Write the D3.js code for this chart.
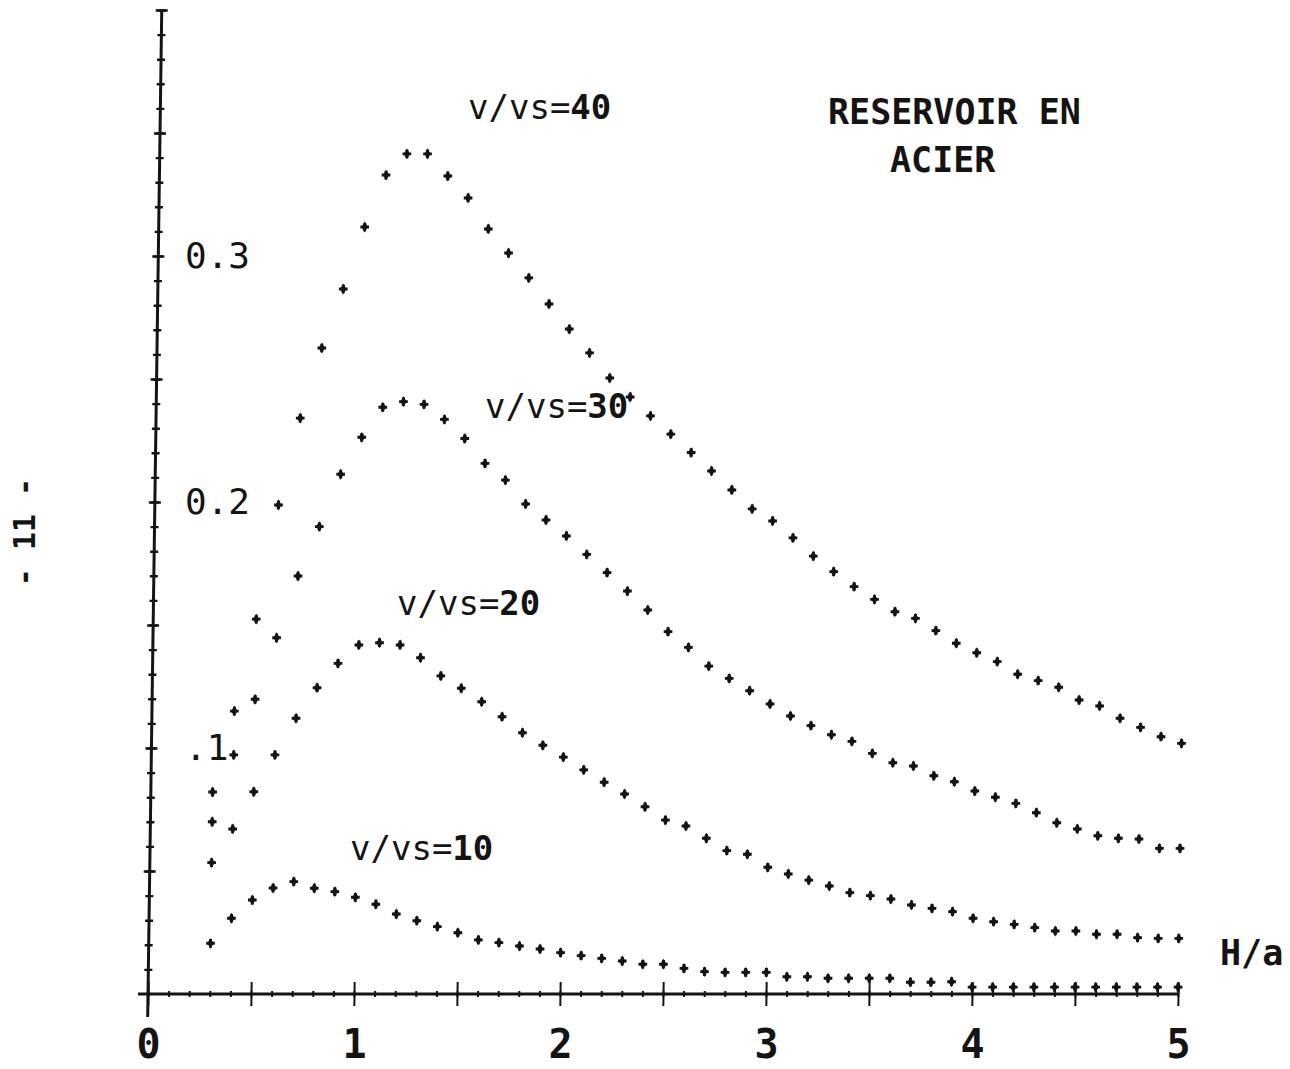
<!DOCTYPE html>
<html lang="fr">
<head>
<meta charset="utf-8">
<title>Reservoir en acier</title>
<script src="https://d3js.org/d3.v7.min.js"></script>
<style>
  body { margin: 0; background: #fff; }
  svg text { font-family: "DejaVu Sans Mono", monospace; fill: #141414; }
</style>
</head>
<body>
<script>
const w = 1290;
const h = 1069;

// abscissa H/a (one point every 0.1)
const hOverA = [0.3, 0.4, 0.5, 0.6, 0.7, 0.8, 0.9, 1.0, 1.1, 1.2, 1.3, 1.4, 1.5, 1.6, 1.7, 1.8,
  1.9, 2.0, 2.1, 2.2, 2.3, 2.4, 2.5, 2.6, 2.7, 2.8, 2.9, 3.0, 3.1, 3.2, 3.3, 3.4, 3.5, 3.6,
  3.7, 3.8, 3.9, 4.0, 4.1, 4.2, 4.3, 4.4, 4.5, 4.6, 4.7, 4.8, 4.9, 5.0];

const vs40 = [0.0821, 0.1150, 0.1524, 0.1988, 0.2341, 0.2626, 0.2866, 0.3118, 0.3329, 0.3415,
  0.3415, 0.3325, 0.3236, 0.3110, 0.3012, 0.2911, 0.2805, 0.2703, 0.2606, 0.2504, 0.2427,
  0.2350, 0.2276, 0.2201, 0.2126, 0.2049, 0.1972, 0.1923, 0.1854, 0.1780, 0.1717, 0.1656,
  0.1604, 0.1554, 0.1527, 0.1477, 0.1426, 0.1387, 0.1351, 0.1300, 0.1274, 0.1247, 0.1195,
  0.1171, 0.1121, 0.1084, 0.1046, 0.1019];

const vs30 = [0.0700, 0.0972, 0.1198, 0.1448, 0.1699, 0.1900, 0.2113, 0.2263, 0.2385, 0.2408,
  0.2397, 0.2336, 0.2258, 0.2157, 0.2089, 0.1992, 0.1927, 0.1862, 0.1787, 0.1713, 0.1638,
  0.1561, 0.1473, 0.1409, 0.1333, 0.1283, 0.1233, 0.1179, 0.1130, 0.1091, 0.1054, 0.1027,
  0.0978, 0.0940, 0.0927, 0.0887, 0.0863, 0.0825, 0.0800, 0.0775, 0.0737, 0.0696, 0.0671,
  0.0643, 0.0633, 0.0630, 0.0592, 0.0592];

const vs20 = [0.0534, 0.0671, 0.0822, 0.0972, 0.1121, 0.1245, 0.1344, 0.1419, 0.1428, 0.1419,
  0.1367, 0.1293, 0.1243, 0.1188, 0.1127, 0.1062, 0.1011, 0.0963, 0.0911, 0.0861, 0.0813,
  0.0761, 0.0707, 0.0683, 0.0633, 0.0583, 0.0568, 0.0515, 0.0488, 0.0463, 0.0439, 0.0412,
  0.0400, 0.0386, 0.0362, 0.0348, 0.0335, 0.0308, 0.0294, 0.0283, 0.0270, 0.0256, 0.0256,
  0.0243, 0.0243, 0.0229, 0.0226, 0.0226];

const vs10 = [0.0206, 0.0308, 0.0382, 0.0431, 0.0457, 0.0430, 0.0416, 0.0393, 0.0365, 0.0325,
  0.0298, 0.0274, 0.0249, 0.0220, 0.0209, 0.0195, 0.0183, 0.0168, 0.0156, 0.0145, 0.0134,
  0.0121, 0.0121, 0.0104, 0.0091, 0.0088, 0.0088, 0.0088, 0.0070, 0.0070, 0.0064, 0.0064,
  0.0064, 0.0064, 0.0048, 0.0048, 0.0050, 0.0028, 0.0028, 0.0028, 0.0028, 0.0028, 0.0028,
  0.0028, 0.0028, 0.0028, 0.0028, 0.0028];

const seriesNames = ["v/vs=40", "v/vs=30", "v/vs=20", "v/vs=10"];
const seriesValues = [vs40, vs30, vs20, vs10];

const xTickValues = [0, 1, 2, 3, 4, 5];
const xTickLabels = ["0", "1", "2", "3", "4", "5"];
const yTickValues = [0.1, 0.2, 0.3];
const yTickLabels = [".1", "0.2", "0.3"];

const titleLines = ["RESERVOIR EN", "ACIER"];
const xTitle = "H/a";
const pageNumber = "- 11 -";

// series label placement (pixels, left edge / baseline)
const labelPos = [[468, 119], [485, 418], [397, 615], [350, 860]];

const xScale = d3.scaleLinear().domain([0, 5]).range([148, 1178]);
const yScale = d3.scaleLinear().domain([0, 0.4]).range([994, 10]);
const y0 = yScale(0);

const svg = d3.select("body").append("svg")
  .attr("width", w)
  .attr("height", h);

svg.append("rect")
  .attr("width", w)
  .attr("height", h)
  .attr("fill", "#fff");

// the scanned plot leans a little: y axis tilts to the right at the top
const plot = svg.append("g")
  .attr("transform", `translate(0,${y0}) skewX(-0.8) translate(0,${-y0})`);

// ---- x axis ----
const xMinor = d3.axisBottom(xScale)
  .tickValues(d3.range(0, 51).map(i => i / 10))
  .tickSize(3).tickSizeOuter(0).tickFormat("");
const xMajor = d3.axisBottom(xScale)
  .tickValues(d3.range(0, 11).map(i => i / 2))
  .tickSize(12).tickSizeOuter(0).tickFormat("");

[[xMinor, 3], [xMajor, 12]].forEach(([ax, s]) => {
  const g = plot.append("g")
    .attr("transform", `translate(0,${y0})`)
    .call(ax);
  g.select(".domain").remove();
  g.selectAll(".tick line")
    .attr("y1", -s)
    .attr("stroke", "#141414")
    .attr("stroke-width", 2);
});

plot.append("line")
  .attr("x1", xScale(0) - 10).attr("x2", xScale(5))
  .attr("y1", y0).attr("y2", y0)
  .attr("stroke", "#141414").attr("stroke-width", 3);

// ---- y axis ----
const yMinor = d3.axisLeft(yScale)
  .tickValues(d3.range(1, 41).map(i => i / 100))
  .tickSize(4).tickSizeOuter(0).tickFormat("");
const yMajor = d3.axisLeft(yScale)
  .tickValues(d3.range(1, 9).map(i => i / 20))
  .tickSize(6).tickSizeOuter(0).tickFormat("");

[[yMinor, 4], [yMajor, 6]].forEach(([ax, s]) => {
  const g = plot.append("g")
    .attr("transform", `translate(${xScale(0)},0)`)
    .call(ax);
  g.select(".domain").remove();
  g.selectAll(".tick line")
    .attr("x1", s)
    .attr("stroke", "#141414")
    .attr("stroke-width", 2.4);
});

plot.append("line")
  .attr("x1", xScale(0)).attr("x2", xScale(0))
  .attr("y1", yScale(0.4)).attr("y2", y0 + 23)
  .attr("stroke", "#141414").attr("stroke-width", 3);

// ---- points ----
const cross = d3.symbol().type(d3.symbolCross).size(42)();
const diamond = d3.symbol().type(d3.symbolDiamond).size(34)();

seriesValues.forEach(vals => {
  const pts = vals.map((v, i) => ({ x: hOverA[i], y: v }));
  const g = plot.append("g").selectAll("g")
    .data(pts)
    .enter().append("g")
    .attr("transform", d => `translate(${xScale(d.x)},${yScale(d.y)})`)
    .attr("fill", "#141414");
  g.append("path").attr("d", cross);
  g.append("path").attr("d", diamond);
});

// ---- tick labels ----
const xLab = svg.append("g")
  .attr("transform", `translate(0,${y0})`)
  .call(d3.axisBottom(xScale)
    .tickValues(xTickValues)
    .tickFormat((d, i) => xTickLabels[i])
    .tickSize(0).tickPadding(36));
xLab.select(".domain").remove();
xLab.selectAll("text")
  .attr("font-family", "DejaVu Sans Mono")
  .attr("font-size", 40)
  .attr("font-weight", "bold")
  .attr("fill", "#141414");

const yLab = svg.append("g")
  .attr("transform", `translate(${xScale(0)},0)`)
  .call(d3.axisRight(yScale)
    .tickValues(yTickValues)
    .tickFormat((d, i) => yTickLabels[i])
    .tickSize(0).tickPadding(37));
yLab.select(".domain").remove();
yLab.selectAll("text")
  .attr("font-family", "DejaVu Sans Mono")
  .attr("font-size", 36)
  .attr("fill", "#141414");

// ---- annotations ----
seriesNames.forEach((name, i) => {
  const t = svg.append("text")
    .attr("x", labelPos[i][0])
    .attr("y", labelPos[i][1])
    .attr("font-size", 34);
  const parts = name.split("=");
  t.append("tspan").text(parts[0] + "=");
  t.append("tspan").attr("font-weight", "bold").text(parts[1]);
});

svg.append("text")
  .attr("x", 828).attr("y", 124)
  .attr("font-size", 35).attr("font-weight", "bold")
  .text(titleLines[0]);
svg.append("text")
  .attr("x", 890).attr("y", 172)
  .attr("font-size", 35).attr("font-weight", "bold")
  .text(titleLines[1]);

svg.append("text")
  .attr("x", 1220).attr("y", 965)
  .attr("font-size", 35).attr("font-weight", "bold")
  .text(xTitle);

svg.append("text")
  .attr("transform", "translate(24,532) rotate(-90)")
  .attr("text-anchor", "middle")
  .attr("dominant-baseline", "central")
  .attr("font-family", "Liberation Mono")
  .attr("font-size", 30)
  .attr("font-weight", "bold")
  .text(pageNumber);
</script>
</body>
</html>
